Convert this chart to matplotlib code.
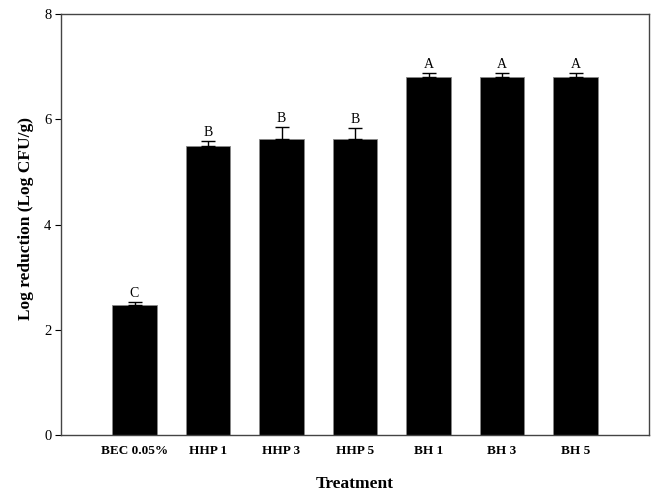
import numpy as np
import matplotlib
matplotlib.use('Agg')
import matplotlib.pyplot as plt

# data
treatments = ['BEC 0.05%', 'HHP 1', 'HHP 3', 'HHP 5', 'BH 1', 'BH 3', 'BH 5']
log_red = [2.47, 5.50, 5.62, 5.62, 6.81, 6.81, 6.81]
err = [0.05, 0.08, 0.23, 0.21, 0.07, 0.07, 0.07]
letters = ['C', 'B', 'B', 'B', 'A', 'A', 'A']

plt.rcParams['font.family'] = ['Liberation Serif', 'DejaVu Serif']

fig = plt.figure(figsize=(6.53, 4.91), dpi=100)
ax = fig.add_axes([61/653, 1 - 435/491, 588/653, 421/491])

x = np.arange(1, len(treatments) + 1)
ax.bar(x, log_red, width=0.61, color='black', edgecolor='#888888', linewidth=0.6, zorder=2)
ax.errorbar(x, log_red, yerr=[np.zeros(len(err)), err], fmt='none',
            ecolor='black', elinewidth=1, capsize=5, capthick=1, zorder=3)

for xi, v, e, lab in zip(x, log_red, err, letters):
    ax.text(xi, v + e + 0.04, lab, ha='center', va='bottom', fontsize=10)

ax.set_xlim(0, 8)
ax.set_ylim(0, 8)
ax.set_yticks([0, 2, 4, 6, 8])
ax.set_xticks(x)
ax.set_xticklabels(treatments, fontweight='bold', fontsize=9.5)
ax.tick_params(axis='x', length=0, pad=7)
ax.tick_params(axis='y', direction='out', length=4, labelsize=10.5, pad=3)

for s in ax.spines.values():
    s.set_color('#444444')
    s.set_linewidth(1)

ax.set_xlabel('Treatment', fontweight='bold', fontsize=12.5, labelpad=14)
ax.set_ylabel('Log reduction (Log CFU/g)', fontweight='bold', fontsize=12.5)
ax.yaxis.set_label_coords(-0.046, 0.515)

fig.savefig('out.png', dpi=100)
